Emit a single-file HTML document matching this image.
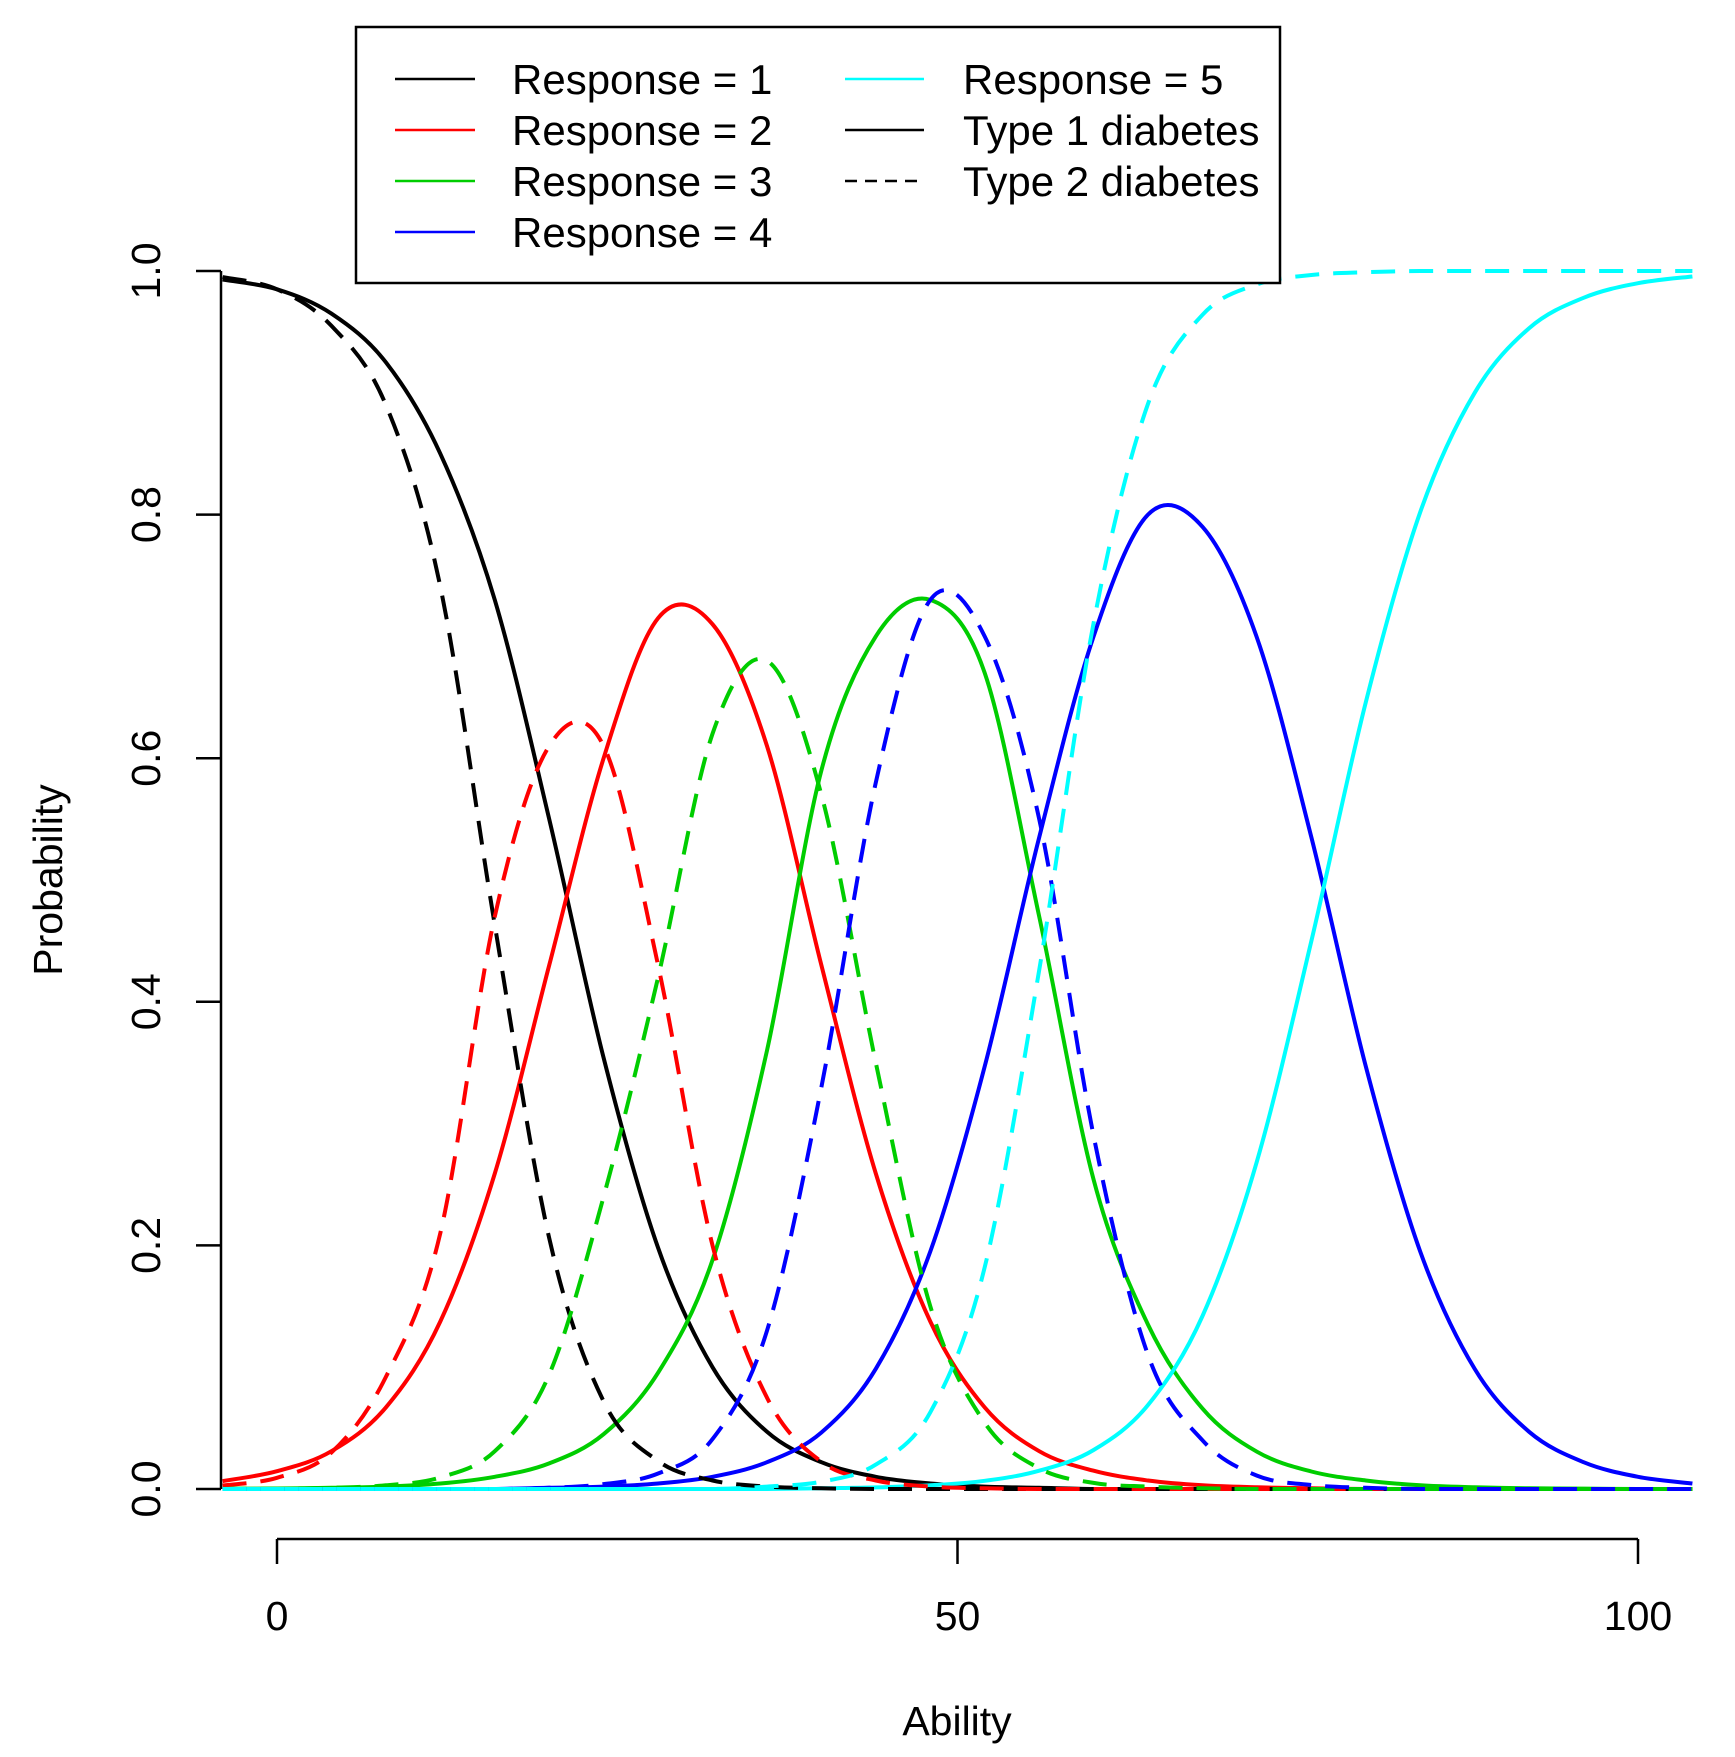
<!DOCTYPE html>
<html><head><meta charset="utf-8"><style>
html,body{margin:0;padding:0;background:#fff}
svg{display:block;font-family:"Liberation Sans",Arial,sans-serif}
</style></head><body>
<svg id="chart" width="1735" height="1757" viewBox="0 0 1735 1757" xmlns="http://www.w3.org/2000/svg">
<rect x="0" y="0" width="1735" height="1757" fill="#fff"/>
<g id="plot"></g>
<g id="axes"></g>
<g id="legend">
  <rect x="356" y="27" width="924" height="256" fill="#fff" stroke="#000" stroke-width="2.5"/>
</g>
</svg>
<script>
const abilityX = [-4,0,4,8,12,16,20,24,28,32,36,40,44,48,52,56,60,64,68,72,76,80,84,88,92,96,100,104];
const t1r1 = [.993,.985,.965,.925,.85,.73,.550,.354,.198,.100,.047,.022,.010,.0045,.002,.001,0,0,0,0,0,0,0,0,0,0,0,0];
const t1r2 = [.0065,.0146,.031,.067,.1375,.259,.43,.60,.715,.71,.61,.43,.259,.1375,.067,.031,.015,.007,.003,.0014,.0006,0,0,0,0,0,0,0];
const t1r3 = [.0002,.0004,.001,.002,.0045,.010,.021,.045,.0955,.188,.36,.59,.70,.73,.67,.47,.254,.135,.066,.0306,.0144,.007,.003,.0014,.0006,.0003,0,0];
const t1r4 = [0,0,0,0,0,0,.001,.002,.0045,.010,.022,.0464,.0987,.195,.347,.535,.70,.80,.79,.699,.535,.347,.195,.0986,.047,.022,.010,.0045];
const t1r5 = [0,0,0,0,0,0,0,0,0,0,0,.0006,.0013,.003,.0067,.015,.032,.069,.142,.269,.450,.646,.802,.900,.953,.978,.990,.9955];
const t2r1 = [.995,.985,.955,.89,.741,.463,.206,.072,.023,.007,.002,.0006,0,0,0,0,0,0,0,0,0,0,0,0,0,0,0,0];
const t2r2 = [.0029,.0092,.030,.092,.21,.47,.61,.61,.43,.20,.075,.0224,.007,.002,.0006,0,0,0,0,0,0,0,0,0,0,0,0,0];
const t2r3 = [.0001,.0003,.001,.003,.0095,.031,.094,.24,.42,.62,.68,.57,.35,.15,.0544,.017,.005,.002,.0006,0,0,0,0,0,0,0,0,0];
const t2r4 = [0,0,0,0,0,0,.001,.004,.0127,.041,.13,.33,.58,.73,.70,.55,.29,.11,.04,.011,.0033,.001,0,0,0,0,0,0];
const t2r5 = [0,0,0,0,0,0,0,0,0,0,.002,.006,.020,.063,.182,.426,.711,.891,.964,.989,.9967,.999,1,1,1,1,1,1];
const xTicks = [0,50,100];
const yTicks = [0,0.2,0.4,0.6,0.8,1.0];
const yTickLabels = ["0.0","0.2","0.4","0.6","0.8","1.0"];

const NS="http://www.w3.org/2000/svg";
const X0=277, XS=13.61;
const Y0=1489, YS=1218;
function sx(v){return X0+v*XS;}
function sy(v){return Y0-v*YS;}
function clampY(y){return Math.max(sy(1),Math.min(sy(0),y));}
function mk(tag,attrs,parent){const e=document.createElementNS(NS,tag);for(const k in attrs)e.setAttribute(k,attrs[k]);parent.appendChild(e);return e;}
function smoothPath(vals){
  const p=vals.map((v,i)=>[sx(abilityX[i]),sy(v)]);
  let d="M"+p[0][0].toFixed(1)+","+p[0][1].toFixed(1);
  for(let i=0;i<p.length-1;i++){
    const p0=p[Math.max(0,i-1)],p1=p[i],p2=p[i+1],p3=p[Math.min(p.length-1,i+2)];
    const c1x=p1[0]+(p2[0]-p0[0])/6,c1y=clampY(p1[1]+(p2[1]-p0[1])/6);
    const c2x=p2[0]-(p3[0]-p1[0])/6,c2y=clampY(p2[1]-(p3[1]-p1[1])/6);
    d+=" C"+c1x.toFixed(1)+","+c1y.toFixed(1)+" "+c2x.toFixed(1)+","+c2y.toFixed(1)+" "+p2[0].toFixed(1)+","+p2[1].toFixed(1);
  }
  return d;
}

const plot=document.getElementById('plot');
const axes=document.getElementById('axes');
const series=[
 {d:t1r1,c:"#000000",dash:false,n:"type1-response-1-line"},
 {d:t1r2,c:"#ff0000",dash:false,n:"type1-response-2-line"},
 {d:t1r3,c:"#00cd00",dash:false,n:"type1-response-3-line"},
 {d:t1r4,c:"#0000ff",dash:false,n:"type1-response-4-line"},
 {d:t1r5,c:"#00ffff",dash:false,n:"type1-response-5-line"},
 {d:t2r1,c:"#000000",dash:true,n:"type2-response-1-line"},
 {d:t2r2,c:"#ff0000",dash:true,n:"type2-response-2-line"},
 {d:t2r3,c:"#00cd00",dash:true,n:"type2-response-3-line"},
 {d:t2r4,c:"#0000ff",dash:true,n:"type2-response-4-line"},
 {d:t2r5,c:"#00ffff",dash:true,n:"type2-response-5-line"}
];
series.forEach(s=>{
  const p=mk('path',{d:smoothPath(s.d),fill:"none",stroke:s.c,"stroke-width":4,"stroke-linejoin":"round"},plot);
  if(s.dash)p.setAttribute('stroke-dasharray','24 14');
  
  
});

const yl=mk('line',{x1:221,y1:sy(0),x2:221,y2:sy(1),stroke:"#000","stroke-width":2.5},axes);


yTicks.forEach((v,i)=>{
  const t=mk('line',{x1:196,y1:sy(v),x2:221,y2:sy(v),stroke:"#000","stroke-width":2.5},axes);
  
  
  const tx=mk('text',{x:0,y:0,"font-size":41,"text-anchor":"middle",fill:"#000",transform:"translate(160,"+sy(v)+") rotate(-90)"},axes);
  tx.textContent=yTickLabels[i];
  
  
});
const xl=mk('line',{x1:sx(0),y1:1539,x2:sx(100),y2:1539,stroke:"#000","stroke-width":2.5},axes);


xTicks.forEach(v=>{
  const t=mk('line',{x1:sx(v),y1:1539,x2:sx(v),y2:1564,stroke:"#000","stroke-width":2.5},axes);
  
  
  const tx=mk('text',{x:sx(v),y:1630,"font-size":41,"text-anchor":"middle",fill:"#000"},axes);
  tx.textContent=String(v);
  
  
});
const xt=mk('text',{x:957,y:1735,"font-size":41,"text-anchor":"middle",fill:"#000"},axes);
xt.textContent="Ability";


const yt=mk('text',{x:0,y:0,"font-size":41,"text-anchor":"middle",fill:"#000",transform:"translate(62,880) rotate(-90)"},axes);
yt.textContent="Probability";



const leg=document.getElementById('legend');
const legendItems=[
 {x1:395,x2:475,tx:512,y:79,c:"#000",dash:false,t:"Response = 1"},
 {x1:395,x2:475,tx:512,y:130,c:"#ff0000",dash:false,t:"Response = 2"},
 {x1:395,x2:475,tx:512,y:181,c:"#00cd00",dash:false,t:"Response = 3"},
 {x1:395,x2:475,tx:512,y:232,c:"#0000ff",dash:false,t:"Response = 4"},
 {x1:845,x2:924,tx:963,y:79,c:"#00ffff",dash:false,t:"Response = 5"},
 {x1:845,x2:924,tx:963,y:130,c:"#000",dash:false,t:"Type 1 diabetes"},
 {x1:845,x2:924,tx:963,y:181,c:"#000",dash:true,t:"Type 2 diabetes"}
];
legendItems.forEach(it=>{
  const g=mk('g',{},leg);
  
  
  const l=mk('line',{x1:it.x1,y1:it.y,x2:it.x2,y2:it.y,stroke:it.c,"stroke-width":2.5},g);
  if(it.dash)l.setAttribute('stroke-dasharray','12 8');
  
  
  const tx=mk('text',{x:it.tx,y:it.y+15,"font-size":42,fill:"#000"},g);
  tx.textContent=it.t;
  
  
});
</script>
</body></html>
